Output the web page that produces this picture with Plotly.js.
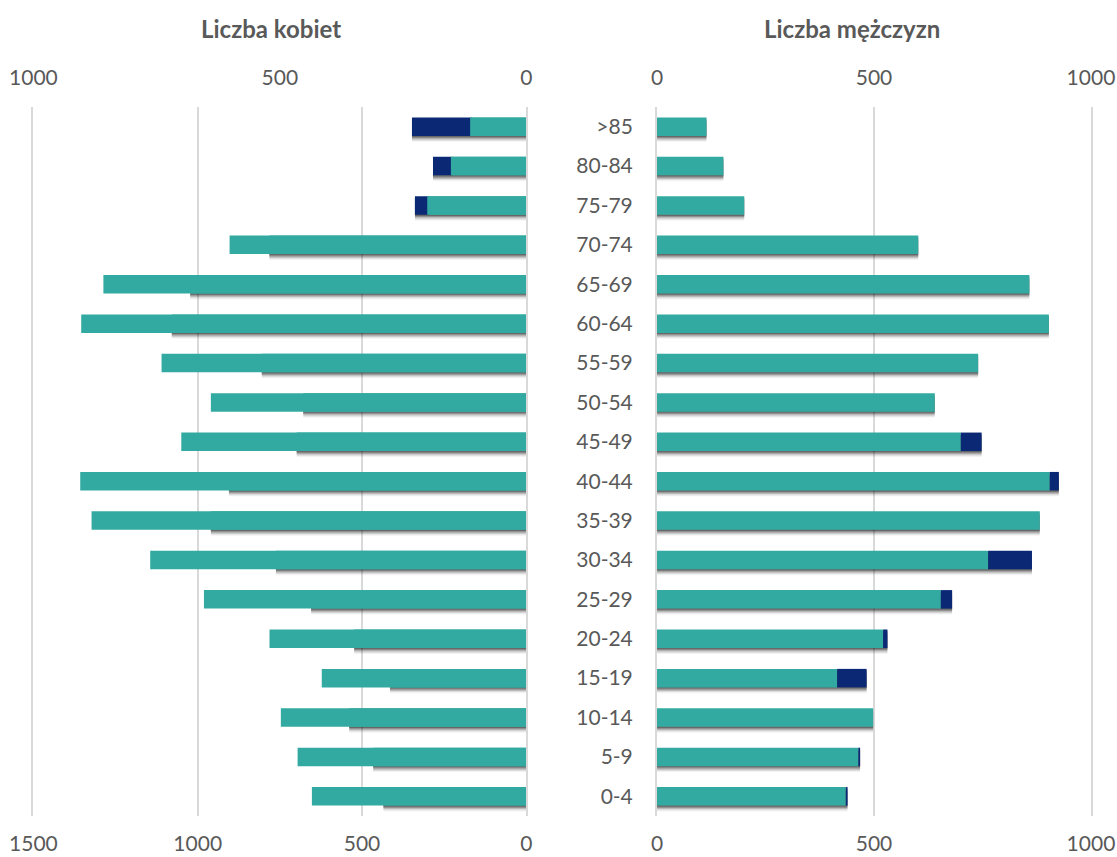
<!DOCTYPE html>
<html>
<head>
<meta charset="utf-8">
<script src="https://cdn.plot.ly/plotly-3.0.1.min.js"></script>
<style>
  html, body { margin: 0; padding: 0; background: #ffffff; }
  #chart { width: 1117px; height: 857px; }
</style>
</head>
<body>
<div id="chart"></div>
<script>
// Age groups, bottom to top
const ageGroups = ['0-4','5-9','10-14','15-19','20-24','25-29','30-34','35-39','40-44','45-49','50-54','55-59','60-64','65-69','70-74','75-79','80-84','>85'];

// Men (right panel, and mirrored on the left top axis in the original)
const menMain  = [435, 464, 498, 415, 521, 654, 763, 882, 905, 700, 640, 740, 903, 858, 602, 201, 153, 114];
const menExtra = [4, 4, 0, 68, 10, 26, 101, 0, 21, 48, 0, 0, 0, 0, 0, 0, 0, 0];

// Women (left panel, bottom axis)
const womenMain  = [435, 466, 539, 415, 524, 655, 762, 960, 905, 699, 679, 805, 1079, 1023, 782, 295, 225, 165];
const womenExtra = [0, 0, 0, 0, 0, 0, 0, 0, 0, 0, 0, 0, 0, 0, 0, 44, 59, 183];

const leftBottomTicks = [1500, 1000, 500, 0];
const leftTopTicks = [1000, 500, 0];
const rightTicks = [0, 500, 1000];

const titleLeft = 'Liczba kobiet';
const titleRight = 'Liczba mężczyzn';

const TEAL = '#33AAA1';
const NAVY = '#0A2873';
const TXT = '#595959';
const GRID = '#d9d9d9';
const FONT = 'Lato, "Open Sans", sans-serif';
const BW = 0.47;

const womenTotal = womenMain.map((v, i) => v + womenExtra[i]);
const menTotal = menMain.map((v, i) => v + menExtra[i]);

function shadows(xvals, xa, ya) {
  const layers = [[0.03, 0.28], [0.06, 0.22], [0.09, 0.15], [0.12, 0.09], [0.15, 0.05]];
  return layers.map(([d, a]) => ({
    type: 'bar', orientation: 'h', y: ageGroups, x: xvals,
    xaxis: xa, yaxis: ya, width: BW, offset: -BW / 2 - d,
    marker: { color: 'rgba(0,0,0,' + a + ')', line: { width: 0 } },
    hoverinfo: 'skip', showlegend: false
  }));
}

function bars(xvals, base, color, xa, ya) {
  const t = {
    type: 'bar', orientation: 'h', y: ageGroups, x: xvals,
    xaxis: xa, yaxis: ya, width: BW, offset: -BW / 2,
    marker: { color: color, line: { width: 0 } }, showlegend: false
  };
  if (base) t.base = base;
  return t;
}

const traces = [
  ...shadows(womenTotal, 'x', 'y'),
  bars(womenMain, null, TEAL, 'x', 'y'),
  bars(womenExtra, womenMain, NAVY, 'x', 'y'),
  bars(menMain, null, TEAL, 'x2', 'y'),
  ...shadows(menTotal, 'x3', 'y2'),
  bars(menMain, null, TEAL, 'x4', 'y2'),
  bars(menExtra, menMain, NAVY, 'x4', 'y2')
];

const tickFont = { family: FONT, size: 21, color: TXT };

const layout = {
  width: 1117, height: 857,
  margin: { l: 0, r: 0, t: 107, b: 41 },
  paper_bgcolor: '#ffffff', plot_bgcolor: 'rgba(0,0,0,0)',
  barmode: 'overlay',
  showlegend: false,
  font: { family: FONT, color: TXT },
  xaxis: {
    domain: [0.0299, 0.4712], range: [1500, 0], anchor: 'y', side: 'bottom',
    tickmode: 'array', tickvals: leftBottomTicks, ticktext: leftBottomTicks.map(String),
    showgrid: true, gridcolor: GRID, gridwidth: 2, zeroline: false, showline: false,
    ticks: '', tickfont: tickFont, ticklabelstandoff: 13, fixedrange: true
  },
  xaxis2: {
    overlaying: 'x', range: [1000, 0], anchor: 'y', side: 'top',
    tickmode: 'array', tickvals: leftTopTicks, ticktext: leftTopTicks.map(String),
    showgrid: false, zeroline: false, showline: false,
    ticks: '', tickfont: tickFont, ticklabelstandoff: 17, fixedrange: true
  },
  xaxis3: {
    domain: [0.5882, 0.9767], range: [0, 1000], anchor: 'y2', side: 'bottom',
    tickmode: 'array', tickvals: rightTicks, ticktext: rightTicks.map(String),
    showgrid: true, gridcolor: GRID, gridwidth: 2, zeroline: false, showline: false,
    ticks: '', tickfont: tickFont, ticklabelstandoff: 13, fixedrange: true
  },
  xaxis4: {
    overlaying: 'x3', range: [0, 1000], anchor: 'y2', side: 'top',
    tickmode: 'array', tickvals: rightTicks, ticktext: rightTicks.map(String),
    showgrid: false, zeroline: false, showline: false,
    ticks: '', tickfont: tickFont, ticklabelstandoff: 17, fixedrange: true
  },
  yaxis: {
    anchor: 'x', type: 'category', categoryorder: 'array', categoryarray: ageGroups,
    range: [-0.5, ageGroups.length - 0.5],
    showticklabels: false, showgrid: false, zeroline: false,
    showline: true, mirror: true, linecolor: GRID, linewidth: 2,
    ticks: '', fixedrange: true
  },
  yaxis2: {
    anchor: 'x3', type: 'category', categoryorder: 'array', categoryarray: ageGroups,
    range: [-0.5, ageGroups.length - 0.5],
    showticklabels: true, showgrid: false, zeroline: false,
    showline: true, mirror: true, linecolor: GRID, linewidth: 2,
    ticks: '', tickfont: tickFont, ticklabelstandoff: 18, fixedrange: true
  },
  annotations: [
    { text: '<b>' + titleLeft + '</b>', xref: 'paper', yref: 'paper', x: 0.2426, y: 1.111,
      xanchor: 'center', yanchor: 'middle', showarrow: false, font: { family: FONT, size: 24, color: TXT } },
    { text: '<b>' + titleRight + '</b>', xref: 'paper', yref: 'paper', x: 0.7628, y: 1.111,
      xanchor: 'center', yanchor: 'middle', showarrow: false, font: { family: FONT, size: 24, color: TXT } }
  ]
};

Plotly.newPlot('chart', traces, layout, { displayModeBar: false, staticPlot: true });
</script>
</body>
</html>
